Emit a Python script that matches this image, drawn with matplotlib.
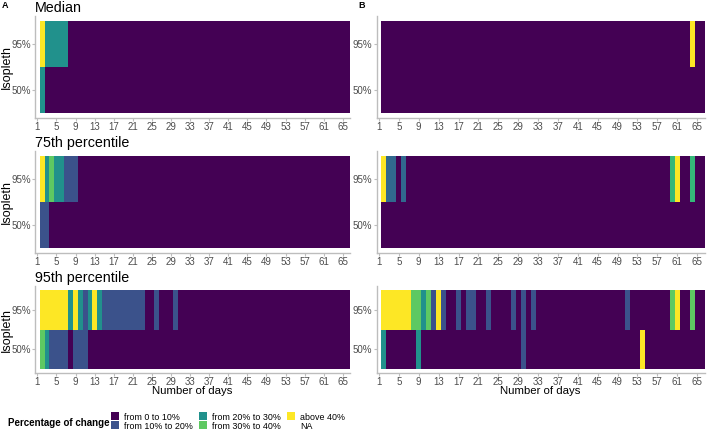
import numpy as np
import matplotlib.pyplot as plt
from matplotlib.colors import ListedColormap
from matplotlib.patches import Patch

plt.rcParams['font.family'] = ['Liberation Sans', 'DejaVu Sans']

# days with a value (day 1 is NA -> left blank)
days = np.arange(2, 67)
day_ticks = [1, 5, 9, 13, 17, 21, 25, 29, 33, 37, 41, 45, 49, 53, 57, 61, 65]
isopleths = ["50%", "95%"]
level_names = ["from 0 to 10%", "from 10% to 20%", "from 20% to 30%",
               "from 30% to 40%", "above 40%"]
# level codes: 0 = 0-10%, 1 = 10-20%, 2 = 20-30%, 3 = 30-40%, 4 = above 40%
# only the days that are not "from 0 to 10%" are listed

median_a_95 = {2: 4, 3: 2, 4: 2, 5: 2, 6: 2, 7: 2}
median_a_50 = {2: 2}
median_b_95 = {64: 4}
median_b_50 = {}

p75_a_95 = {2: 4, 3: 2, 4: 3, 5: 2, 6: 2, 7: 1, 8: 1, 9: 1}
p75_a_50 = {2: 1, 3: 1}
p75_b_95 = {2: 4, 3: 1, 4: 1, 6: 1, 60: 3, 61: 4, 64: 3}
p75_b_50 = {}

p95_a_95 = {2: 4, 3: 4, 4: 4, 5: 4, 6: 4, 7: 4, 8: 2, 9: 4, 10: 2, 11: 1,
            12: 2, 13: 4, 14: 2, 15: 1, 16: 1, 17: 1, 18: 1, 19: 1, 20: 1,
            21: 1, 22: 1, 23: 1, 26: 1, 30: 1}
p95_a_50 = {2: 3, 3: 2, 4: 1, 5: 1, 6: 1, 7: 1, 9: 1, 10: 1, 11: 1}
p95_b_95 = {2: 4, 3: 4, 4: 4, 5: 4, 6: 4, 7: 4, 8: 3, 9: 3, 10: 2, 11: 3,
            12: 1, 13: 4, 14: 1, 17: 1, 19: 1, 20: 1, 23: 1, 28: 1, 30: 1,
            32: 1, 51: 1, 60: 3, 61: 4, 64: 3}
p95_b_50 = {2: 2, 9: 2, 30: 1, 54: 4}

titles = ["Median", "75th percentile", "95th percentile"]
panel_data = [
    [(median_a_50, median_a_95), (median_b_50, median_b_95)],
    [(p75_a_50, p75_a_95), (p75_b_50, p75_b_95)],
    [(p95_a_50, p95_a_95), (p95_b_50, p95_b_95)],
]

W, H = 708, 432
fig = plt.figure(figsize=(W / 100, H / 100), dpi=100)

rows_px = [(16, 118), (151, 253), (286, 373.3)]
cols_px = [(35, 350), (376.5, 704.5)]
axis_grey = '#BDBDBD'


def draw_panel(ax, row50, row95):
    grid = np.zeros((2, len(days)), dtype=int)
    for d, lv in row50.items():
        grid[0, d - days[0]] = lv
    for d, lv in row95.items():
        grid[1, d - days[0]] = lv
    # like ggplot's viridis_d: palette spread over the levels present in the panel
    present = np.unique(grid)
    cols = plt.cm.viridis(np.linspace(0, 1, len(present)))
    idx = np.searchsorted(present, grid)
    ax.pcolormesh(np.append(days - 0.5, days[-1] + 0.5), [0.5, 1.5, 2.5], idx,
                  cmap=ListedColormap(cols), vmin=-0.5, vmax=len(present) - 0.5,
                  shading='flat', antialiased=False, linewidth=0)
    ax.set_xlim(0.5, 66.5)
    ax.set_ylim(0.4, 2.6)
    ax.set_xticks(day_ticks)
    ax.set_yticks([1, 2], isopleths)
    for s in ['top', 'right']:
        ax.spines[s].set_visible(False)
    for s in ['left', 'bottom']:
        ax.spines[s].set_color(axis_grey)
        ax.spines[s].set_linewidth(1.0)
    ax.tick_params(color=axis_grey, labelcolor='#4D4D4D', labelsize=7,
                   length=2, width=0.8, pad=1)


for r, (top, bot) in enumerate(rows_px):
    for c, (left, right) in enumerate(cols_px):
        ax = fig.add_axes([left / W, 1 - bot / H, (right - left) / W, (bot - top) / H])
        draw_panel(ax, *panel_data[r][c])
        if c == 0:
            ax.set_title(titles[r], loc='left', fontsize=10.3, pad=3)
            fig.text(6.5 / W, 1 - (top + bot) / 2 / H, "Isopleth", rotation=90,
                     ha='center', va='center', fontsize=9)
        if r == 2:
            fig.text((left + right) / 2 / W, 1 - 386.5 / H, "Number of days",
                     ha='center', va='top', fontsize=8.2)

fig.text(5 / W, 1 - 6 / H, "A", fontsize=6.5, fontweight='bold', ha='center', va='center')
fig.text(362 / W, 1 - 6 / H, "B", fontsize=6.5, fontweight='bold', ha='center', va='center')

# legend
legend_cols = plt.cm.viridis(np.linspace(0, 1, len(level_names)))
handles = [Patch(facecolor=legend_cols[i], edgecolor='none') for i in range(len(level_names))]
handles.append(Patch(facecolor='none', edgecolor='none'))
labels = level_names + ["NA"]
fig.text(8 / W, 1 - 423 / H, "Percentage of change", fontsize=7,
         fontweight='bold', ha='left', va='center')
fig.legend(handles, labels, ncol=3, loc='center left',
           bbox_to_anchor=(111 / W, 1 - 421.5 / H), frameon=False, fontsize=6.4,
           handlelength=0.9, handleheight=1.0, handletextpad=0.55,
           labelspacing=0.0, columnspacing=0.7, borderpad=0, borderaxespad=0)

fig.savefig("out.png", dpi=100)
